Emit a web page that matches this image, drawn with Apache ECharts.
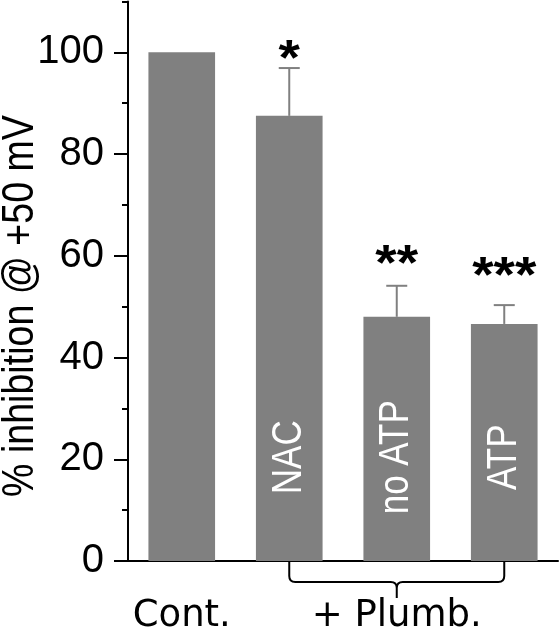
<!DOCTYPE html>
<html>
<head>
<meta charset="utf-8">
<script src="https://cdn.jsdelivr.net/npm/echarts@6/dist/echarts.min.js"></script>
<style>html,body{margin:0;padding:0;background:#fff}#c{width:559px;height:628px}</style>
</head>
<body>
<div id="c"></div>
<script>
// ---- data ----
const categories = ['Cont.', 'NAC', 'no ATP', 'ATP'];
const groupLabels = ['Cont.', '', '+ Plumb.', ''];
const barLabels = ['', 'NAC', 'no ATP', 'ATP'];
const values = [100, 87.5, 48.0, 46.6];
const errors = [0, 9.4, 6.1, 3.7];
const stars = ['', '*', '**', '***'];
const starLevel = [0, 100.4, 60.2, 57.8];
const yMajorTicks = [0, 20, 40, 60, 80, 100];
const yMinorTicks = [10, 30, 50, 70, 90, 110];
const yTitle = '% inhibition @ +50 mV';

const GRAY = '#808080';
const chart = echarts.init(document.getElementById('c'), null, {renderer: 'canvas'});

const customData = categories.map((c, i) => [i, values[i], errors[i], starLevel[i]]);

chart.setOption({
  animation: false,
  grid: {left: 128, right: 1, top: 1.4, bottom: 67, containLabel: false, outerBoundsMode: 'none'},
  xAxis: [{
    type: 'category', data: categories, position: 'bottom',
    axisLine: {lineStyle: {color: '#000', width: 2}},
    axisTick: {alignWithLabel: true, length: 9, lineStyle: {color: '#000', width: 2}},
    axisLabel: {
      formatter: (v, i) => groupLabels[i],
      interval: 0, margin: 37, color: '#000',
      fontFamily: 'DejaVu Sans', fontSize: 37
    },
    splitLine: {show: false}
  }, {
    type: 'category', data: categories, position: 'bottom',
    axisLine: {show: false},
    axisTick: {alignWithLabel: false, length: 4, lineStyle: {color: '#000', width: 2}},
    axisLabel: {show: false},
    splitLine: {show: false}
  }],
  yAxis: [{
    type: 'value', min: 0, max: 110, interval: 10, position: 'left',
    axisLine: {show: true, lineStyle: {color: '#000', width: 2}},
    axisTick: {show: true, length: 14, customValues: yMajorTicks, lineStyle: {color: '#000', width: 2}},
    axisLabel: {customValues: yMajorTicks, margin: 24, color: '#000', fontFamily: 'Liberation Sans', fontSize: 40},
    splitLine: {show: false}
  }, {
    type: 'value', min: 0, max: 110, interval: 10, position: 'left',
    axisLine: {show: false},
    axisTick: {show: true, length: 6, customValues: yMinorTicks, lineStyle: {color: '#000', width: 2}},
    axisLabel: {show: false},
    splitLine: {show: false}
  }],
  graphic: [{
    type: 'text', x: 21, y: 306, rotation: Math.PI / 2, scaleY: 1.16,
    style: {text: yTitle, fill: '#000', font: '37.6px "Liberation Sans"', align: 'center', verticalAlign: 'middle'}
  }],
  series: [{
    type: 'bar', data: values, barWidth: '62%', xAxisIndex: 0, yAxisIndex: 0,
    itemStyle: {color: GRAY}, z: 2
  }, {
    type: 'custom', xAxisIndex: 0, yAxisIndex: 0, z: 5,
    data: customData,
    encode: {x: 0, y: 1},
    renderItem: function (params, api) {
      const i = api.value(0);
      const v = api.value(1), e = api.value(2), s = api.value(3);
      const children = [];
      const base = api.coord([i, v]);
      const top = api.coord([i, v + e]);
      if (e > 0) {
        children.push({type: 'line', shape: {x1: base[0], y1: base[1], x2: top[0], y2: top[1]}, style: {stroke: GRAY, lineWidth: 2}});
        children.push({type: 'line', shape: {x1: top[0] - 10.5, y1: top[1], x2: top[0] + 10.5, y2: top[1]}, style: {stroke: GRAY, lineWidth: 2}});
      }
      if (stars[i]) {
        const sp = api.coord([i, s]);
        children.push({type: 'text', x: sp[0], y: sp[1] + 11, scaleX: 1.1,
          style: {text: stars[i], fill: '#000', font: 'bold 50px "Liberation Sans"', align: 'center', verticalAlign: 'middle'}});
      }
      if (barLabels[i]) {
        const lp = api.coord([i, 20.4]);
        children.push({type: 'text', x: lp[0], y: lp[1], rotation: Math.PI / 2, scaleY: 1.2,
          style: {text: barLabels[i], fill: '#fff', font: '35px "Liberation Sans"', align: 'center', verticalAlign: 'middle'}});
      }
      if (i === 2) {
        const l = api.coord([1, 0]), c = api.coord([2, 0]), r = api.coord([3, 0]);
        const y0 = l[1], yb = y0 + 21, yp = y0 + 37, rr = 6;
        const x1 = l[0], xc = c[0], x3 = r[0];
        const d = `M${x1},${y0} L${x1},${yb - rr} Q${x1},${yb} ${x1 + rr},${yb} L${xc - rr},${yb} Q${xc},${yb} ${xc},${yb + rr} L${xc},${yp} M${xc},${yb + rr} Q${xc},${yb} ${xc + rr},${yb} L${x3 - rr},${yb} Q${x3},${yb} ${x3},${yb - rr} L${x3},${y0}`;
        children.push({type: 'path', shape: {pathData: d}, style: {stroke: '#000', fill: null, lineWidth: 2}});
      }
      return {type: 'group', children: children};
    }
  }]
});
</script>
</body>
</html>
